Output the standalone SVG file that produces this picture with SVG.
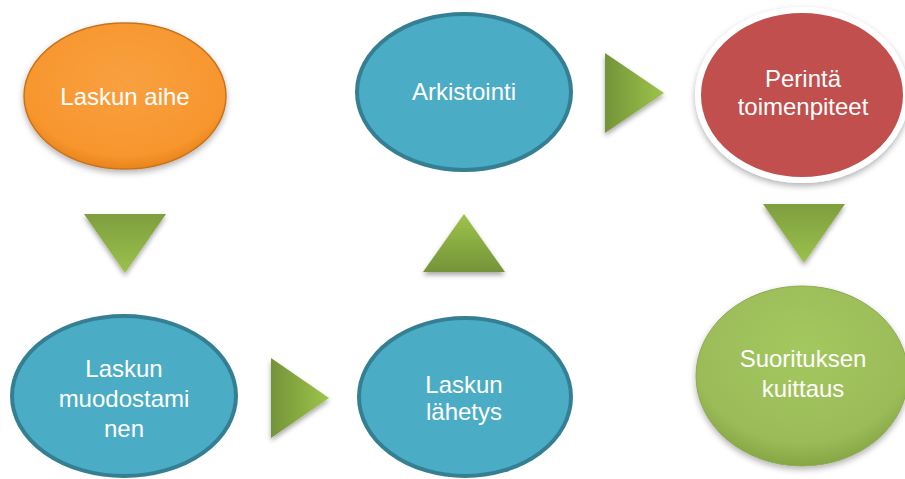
<svg xmlns="http://www.w3.org/2000/svg" width="905" height="479" viewBox="0 0 905 479">
<defs>
<style>
text{font-family:"Liberation Sans",Arial,sans-serif;font-size:24px;fill:#fff;text-anchor:middle}
.teal{fill:#4BACC6;stroke:#357F93;stroke-width:4}
.arrow{filter:url(#sh)}
</style>
<filter id="sh" x="-30%" y="-30%" width="160%" height="170%">
<feDropShadow dx="0" dy="3" stdDeviation="2.5" flood-color="#000" flood-opacity="0.35"/>
</filter>
<filter id="sh2" x="-20%" y="-20%" width="140%" height="150%">
<feDropShadow dx="0" dy="3" stdDeviation="3" flood-color="#000" flood-opacity="0.3"/>
</filter>
<radialGradient id="gOrange" cx="50%" cy="40%" r="60%">
<stop offset="0" stop-color="#F9A040"/>
<stop offset="0.85" stop-color="#F7962D"/>
<stop offset="1" stop-color="#E8841C"/>
</radialGradient>
<radialGradient id="gGreen" cx="50%" cy="35%" r="65%">
<stop offset="0" stop-color="#A4C85E"/>
<stop offset="0.8" stop-color="#9BBB59"/>
<stop offset="1" stop-color="#86A645"/>
</radialGradient>
<linearGradient id="aR" x1="0" y1="0" x2="1" y2="0">
<stop offset="0" stop-color="#749339"/>
<stop offset="1" stop-color="#9DC44A"/>
</linearGradient>
<linearGradient id="aD" x1="0" y1="0" x2="0" y2="1">
<stop offset="0" stop-color="#7E9E3F"/>
<stop offset="1" stop-color="#9CC14C"/>
</linearGradient>
<linearGradient id="aU" x1="0" y1="1" x2="0" y2="0">
<stop offset="0" stop-color="#749339"/>
<stop offset="1" stop-color="#9DC44A"/>
</linearGradient>
</defs>

<g id="connectors">
<polygon class="arrow" points="84,214 166,214 125,273" fill="url(#aD)"/>
<polygon class="arrow" points="271,358 329,398 271,438" fill="url(#aR)"/>
<polygon class="arrow" points="423,272 505,272 464,214" fill="url(#aU)"/>
<polygon class="arrow" points="605,53 664,93 605,133" fill="url(#aR)"/>
<polygon class="arrow" points="763,204 845,204 804,263" fill="url(#aD)"/>
</g>

<g id="node-laskun-aihe">
<ellipse cx="125" cy="96" rx="101" ry="73" fill="url(#gOrange)" stroke="#C8731E" stroke-width="1.5" filter="url(#sh2)"/>
<text x="125" y="105">Laskun aihe</text>
</g>

<g id="node-arkistointi">
<ellipse class="teal" cx="464" cy="92" rx="107" ry="78"/>
<text x="464" y="100">Arkistointi</text>
</g>

<g id="node-perinta">
<ellipse cx="802" cy="95" rx="104" ry="85" fill="#C0504D" stroke="#fff" stroke-width="6" filter="url(#sh2)"/>
<text x="803" y="87">Perintä</text>
<text x="803" y="115">toimenpiteet</text>
</g>

<g id="node-laskun-muodostaminen">
<ellipse class="teal" cx="124" cy="396" rx="112" ry="80"/>
<text x="124" y="377">Laskun</text>
<text x="124" y="407">muodostami</text>
<text x="124" y="437">nen</text>
</g>

<g id="node-laskun-lahetys">
<ellipse class="teal" cx="465" cy="397" rx="106" ry="79"/>
<text x="464" y="393">Laskun</text>
<text x="464" y="420">lähetys</text>
</g>

<g id="node-suorituksen-kuittaus">
<ellipse cx="802" cy="376" rx="106" ry="90" fill="url(#gGreen)" stroke="#8DAA4E" stroke-width="1" filter="url(#sh2)"/>
<text x="803" y="367">Suorituksen</text>
<text x="803" y="397">kuittaus</text>
</g>
</svg>
